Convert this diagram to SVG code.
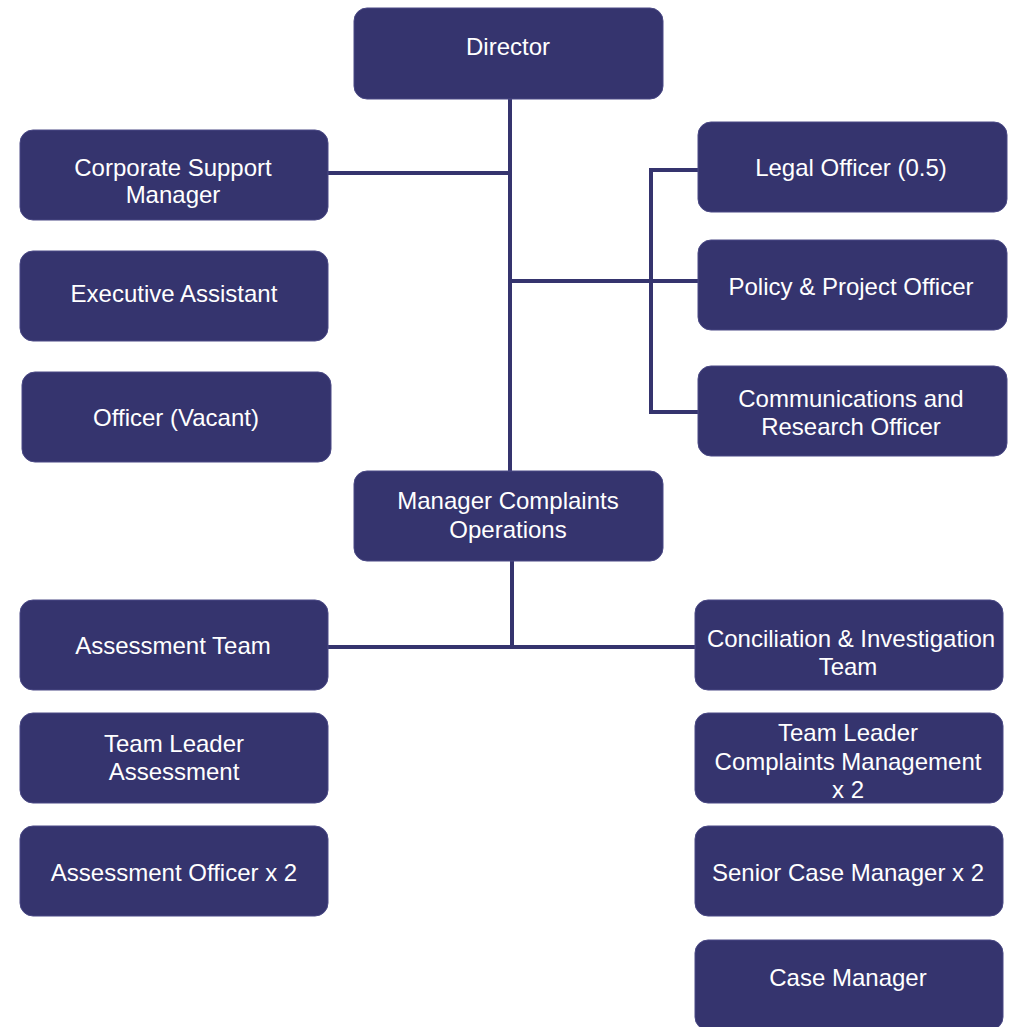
<svg xmlns="http://www.w3.org/2000/svg" width="1011" height="1027" viewBox="0 0 1011 1027">
<style>
.box{fill:#35346e;stroke:#4a4985;stroke-width:1}
.t{fill:#ffffff;font-family:"Liberation Sans",Arial,sans-serif;font-size:24px;text-anchor:middle}
.ln{stroke:#35346e;stroke-width:4;fill:none}
</style>
<rect width="1011" height="1027" fill="#ffffff"/>
<g id="connectors">
<path class="ln" d="M510 99 V471"/>
<path class="ln" d="M328 173 H510"/>
<path class="ln" d="M510 281 H698"/>
<path class="ln" d="M698 170 H651 V412 H698"/>
<path class="ln" d="M512 561 V647"/>
<path class="ln" d="M328 647 H695"/>
</g>
<g id="director"><rect class="box" x="354" y="8" width="309" height="91" rx="13"/><text class="t" x="508" y="55">Director</text></g>
<g id="corporate-support-manager"><rect class="box" x="20" y="130" width="308" height="90" rx="13"/><text class="t" x="173" y="176">Corporate Support</text><text class="t" x="173" y="203">Manager</text></g>
<g id="executive-assistant"><rect class="box" x="20" y="251" width="308" height="90" rx="13"/><text class="t" x="174" y="302">Executive Assistant</text></g>
<g id="officer-vacant"><rect class="box" x="22" y="372" width="309" height="90" rx="13"/><text class="t" x="176" y="426">Officer (Vacant)</text></g>
<g id="legal-officer"><rect class="box" x="698" y="122" width="309" height="90" rx="13"/><text class="t" x="851" y="176">Legal Officer (0.5)</text></g>
<g id="policy-project-officer"><rect class="box" x="698" y="240" width="309" height="90" rx="13"/><text class="t" x="851" y="295">Policy &amp; Project Officer</text></g>
<g id="communications-research-officer"><rect class="box" x="698" y="366" width="309" height="90" rx="13"/><text class="t" x="851" y="407">Communications and</text><text class="t" x="851" y="435">Research Officer</text></g>
<g id="manager-complaints-operations"><rect class="box" x="354" y="471" width="309" height="90" rx="13"/><text class="t" x="508" y="509">Manager Complaints</text><text class="t" x="508" y="538">Operations</text></g>
<g id="assessment-team"><rect class="box" x="20" y="600" width="308" height="90" rx="13"/><text class="t" x="173" y="654">Assessment Team</text></g>
<g id="team-leader-assessment"><rect class="box" x="20" y="713" width="308" height="90" rx="13"/><text class="t" x="174" y="752">Team Leader</text><text class="t" x="174" y="780">Assessment</text></g>
<g id="assessment-officer"><rect class="box" x="20" y="826" width="308" height="90" rx="13"/><text class="t" x="174" y="881">Assessment Officer x 2</text></g>
<g id="conciliation-investigation-team"><rect class="box" x="695" y="600" width="308" height="90" rx="13"/><text class="t" x="851" y="647">Conciliation &amp; Investigation</text><text class="t" x="848" y="675">Team</text></g>
<g id="team-leader-complaints-management"><rect class="box" x="695" y="713" width="308" height="90" rx="13"/><text class="t" x="848" y="741">Team Leader</text><text class="t" x="848" y="770">Complaints Management</text><text class="t" x="848" y="798">x 2</text></g>
<g id="senior-case-manager"><rect class="box" x="695" y="826" width="308" height="90" rx="13"/><text class="t" x="848" y="881">Senior Case Manager x 2</text></g>
<g id="case-manager"><rect class="box" x="695" y="940" width="308" height="90" rx="13"/><text class="t" x="848" y="986">Case Manager</text></g>
</svg>
